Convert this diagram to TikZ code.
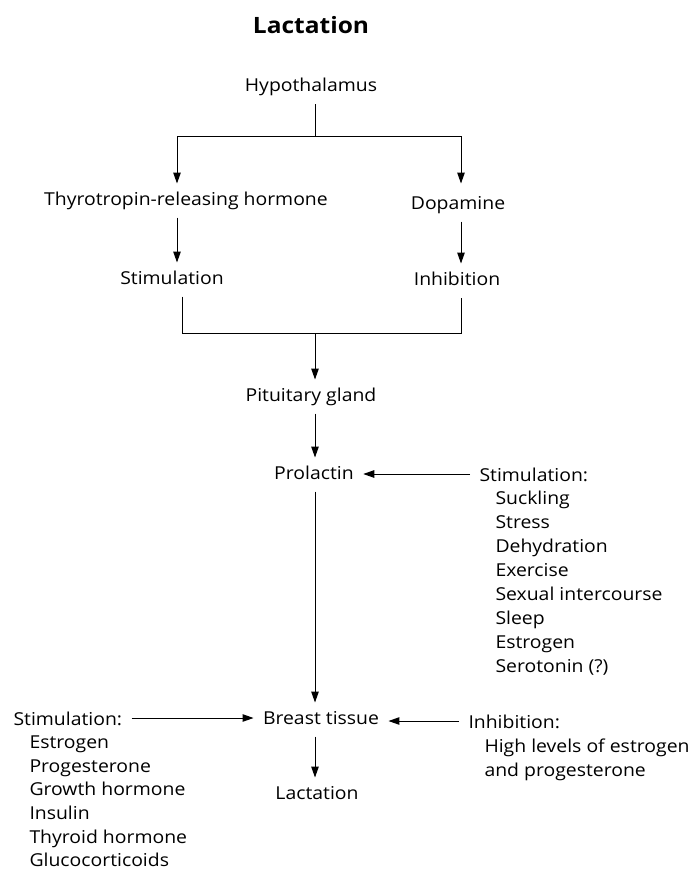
\documentclass[tikz,border=0pt]{standalone}
\usepackage{fontspec}
\setmainfont{Open Sans}[FakeStretch=1.09]
\usetikzlibrary{arrows.meta}
\tikzset{
  box/.style={anchor=base, text height=21pt, text depth=12pt, inner ysep=0pt, inner xsep=9pt, font=\fontsize{17.8}{20}\selectfont},
  item/.style={anchor=base west, inner sep=0pt, font=\fontsize{17.8}{20}\selectfont},
  arr/.style={-{Triangle[length=11pt,width=7.5pt]}}
}
\begin{document}
\begin{tikzpicture}[x=1pt,y=-1pt,line width=1pt]
\useasboundingbox (0,0) rectangle (689,872);
\node[font=\bfseries\fontsize{22.5}{26}\selectfont] (title) at (311,25) {Lactation};
\node[box] (hypo) at (311,92) {Hypothalamus};
\node[box] (trh) at (186,205) {Thyrotropin-releasing hormone};
\node[box] (dopa) at (458,209) {Dopamine};
\node[box] (stim) at (172,284) {Stimulation};
\node[box] (inh) at (457,285) {Inhibition};
\node[box] (pit) at (311,401) {Pituitary gland};
\node[box] (prl) at (314,479) {Prolactin};
\node[box] (breast) at (321,724) {Breast tissue};
\node[box] (lact) at (317,799) {Lactation};
\node[box,anchor=base west] (stimR) at (470,481) {Stimulation:};
\node[box,anchor=base west] (stimL) at (4,725) {Stimulation:};
\node[box,anchor=base west] (inhB) at (459,728) {Inhibition:};
\foreach \t [count=\i] in {Suckling,Stress,Dehydration,Exercise,Sexual intercourse,Sleep,Estrogen,Serotonin (?)}
  \node[item] (stimR-\i) at (495,{481+23.9*\i}) {\t};
\foreach \t [count=\i] in {Estrogen,Progesterone,Growth hormone,Insulin,Thyroid hormone,Glucocorticoids}
  \node[item] (stimL-\i) at (29,{725+23.6*\i}) {\t};
\foreach \t [count=\i] in {High levels of estrogen,and progesterone}
  \node[item] (inhB-\i) at (484,{728+24*\i}) {\t};
\coordinate (top) at (315,136);
\coordinate (jl) at (177,136);
\coordinate (jr) at (461,136);
\coordinate (bl) at (182,333);
\coordinate (bm) at (315,333);
\coordinate (br) at (461,333);
\draw (hypo.south -| top) -- (top);
\draw (jl) -- (jr);
\draw[arr] (jl) -- (jl |- trh.north);
\draw[arr] (jr) -- (jr |- trh.north);
\draw[arr] (jl |- trh.south) -- (jl |- stim.north);
\draw[arr] (jr |- dopa.south) -- (jr |- inh.north);
\draw (bl |- stim.south) -- (bl) -- (br) -- (br |- inh.south);
\draw[arr] (bm) -- (bm |- pit.north);
\draw[arr] (bm |- pit.south) -- (bm |- prl.north);
\draw[arr] (bm |- prl.south) -- (bm |- breast.north);
\draw[arr] (bm |- breast.south) -- (bm |- lact.north);
\coordinate (sr) at ([yshift=7pt]stimR.base west);
\coordinate (sl) at ([yshift=7pt]stimL.base east);
\coordinate (ir) at ([yshift=7pt]inhB.base west);
\draw[arr] (sr) -- (sr -| prl.east);
\draw[arr] (sl) -- (sl -| breast.west);
\draw[arr] (ir) -- (ir -| breast.east);
\end{tikzpicture}
\end{document}
